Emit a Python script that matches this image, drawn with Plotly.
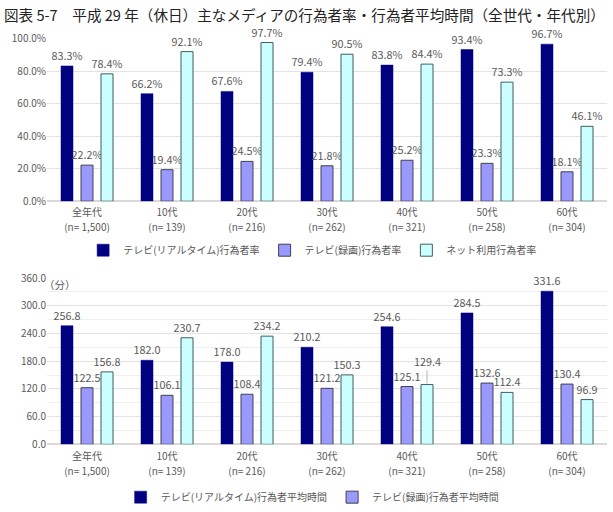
import plotly.graph_objects as go

cat_names = ["全年代", "10代", "20代", "30代", "40代", "50代", "60代"]
cat_n = ["(n= 1,500)", "(n= 139)", "(n= 216)", "(n= 262)", "(n= 321)", "(n= 258)", "(n= 304)"]

rate_real = [83.3, 66.2, 67.6, 79.4, 83.8, 93.4, 96.7]
rate_rec = [22.2, 19.4, 24.5, 21.8, 25.2, 23.3, 18.1]
rate_net = [78.4, 92.1, 97.7, 90.5, 84.4, 73.3, 46.1]

time_real = [256.8, 182.0, 178.0, 210.2, 254.6, 284.5, 331.6]
time_rec = [122.5, 106.1, 108.4, 121.2, 125.1, 132.6, 130.4]
time_net = [156.8, 230.7, 234.2, 150.3, 129.4, 112.4, 96.9]

names_top = ["テレビ(リアルタイム)行為者率", "テレビ(録画)行為者率", "ネット利用行為者率"]
names_bot = ["テレビ(リアルタイム)行為者平均時間", "テレビ(録画)行為者平均時間", "ネット利用行為者平均時間"]

# index of the label that is lifted with a leader line in the lower chart
LIFTED = 4

W, H = 613, 512
FONT = "Noto Sans CJK JP"
GREY = "#595959"
colors = ["#000080", "#9999FF", "#CCFFFF"]
lines = [dict(color="#000080", width=0.5), dict(color="#404050", width=1), dict(color="#3f5f5f", width=1)]
LABEL_SIZE = 10.8


def py(px):
    return 1 - px / H


fig = go.Figure()

for vals, name, c, ln in zip([rate_real, rate_rec, rate_net], names_top, colors, lines):
    fig.add_trace(go.Bar(
        x=cat_names, y=vals, name=name, marker=dict(color=c, line=ln),
        texttemplate="%{y:.1f}%", textposition="outside", cliponaxis=False,
        constraintext="none",
        textfont=dict(size=LABEL_SIZE, color=GREY, family=FONT),
        xaxis="x", yaxis="y", legend="legend"))

for i, (vals, name, c, ln) in enumerate(zip([time_real, time_rec, time_net], names_bot, colors, lines)):
    if i == 2:
        tt = ["" if k == LIFTED else "%{y:.1f}" for k in range(len(vals))]
    else:
        tt = "%{y:.1f}"
    fig.add_trace(go.Bar(
        x=cat_names, y=vals, name=name, marker=dict(color=c, line=ln),
        texttemplate=tt, textposition="outside", cliponaxis=False,
        constraintext="none",
        textfont=dict(size=LABEL_SIZE, color=GREY, family=FONT),
        xaxis="x2", yaxis="y2", legend="legend2", showlegend=(i < 2),
        offsetgroup=str(i)))

# empty helper traces so that the overlaid "(n= ...)" label axes are drawn
for xa, ya in (("x3", "y"), ("x4", "y2")):
    fig.add_trace(go.Scatter(x=cat_n, y=[None] * len(cat_n), mode="markers",
                             xaxis=xa, yaxis=ya, showlegend=False, hoverinfo="skip"))

xdom = [47 / W, 607 / W]
tf = dict(size=10, color=GREY, family=FONT)
axis_common = dict(showline=False, ticks="", tickfont=tf)
n_axis = dict(type="category", range=[-0.5, len(cat_n) - 0.5], showgrid=False,
              zeroline=False, showline=False, ticks="", tickfont=tf, ticklabelstandoff=19,
              domain=xdom)

fig.update_layout(
    width=W, height=H,
    margin=dict(l=0, r=0, t=0, b=0),
    paper_bgcolor="white", plot_bgcolor="white",
    font=dict(family=FONT, color=GREY),
    barmode="group", bargap=0.25, bargroupgap=0.4,
    showlegend=True,
    xaxis=dict(domain=xdom, anchor="y", ticklabelstandoff=4, **axis_common),
    yaxis=dict(domain=[py(200), py(31)], range=[0, 100], dtick=20, tickformat=".1f",
               ticksuffix="%", showgrid=True, gridcolor="#e3e3e3", gridwidth=1,
               zeroline=True, zerolinecolor="#d9d9d9", **axis_common),
    xaxis2=dict(domain=xdom, anchor="y2", ticklabelstandoff=5, **axis_common),
    yaxis2=dict(domain=[py(453), py(280)], range=[0, 360], dtick=60, tickformat=".1f",
                showgrid=True, gridcolor="#e3e3e3", gridwidth=1,
                minor=dict(dtick=30, showgrid=True, gridcolor="#efefef", gridwidth=1),
                zeroline=True, zerolinecolor="#d9d9d9", **axis_common),
    xaxis3={**n_axis, "overlaying": "x", "anchor": "y", "side": "bottom"},
    xaxis4={**n_axis, "overlaying": "x2", "anchor": "y2", "side": "bottom",
            "ticklabelstandoff": 20},
    legend=dict(orientation="h", x=0.51, xanchor="center", y=py(251), yanchor="middle",
                font=dict(size=10, color=GREY, family=FONT), itemwidth=30,
                bgcolor="rgba(0,0,0,0)"),
    legend2=dict(orientation="h", x=0.51, xanchor="center", y=py(508), yanchor="middle",
                 font=dict(size=10, color=GREY, family=FONT), itemwidth=30,
                 bgcolor="rgba(0,0,0,0)"),
    annotations=[
        dict(text="図表 5-7　平成 29 年（休日）主なメディアの行為者率・行為者平均時間（全世代・年代別）",
             xref="paper", yref="paper", x=2 / W, y=py(6), xanchor="left", yanchor="middle",
             showarrow=False, font=dict(size=14.6, color="#222222", family=FONT)),
        dict(text="（分）", xref="paper", yref="paper", x=42 / W, y=py(287), xanchor="left",
             yanchor="middle", showarrow=False, font=dict(size=10.5, color=GREY, family=FONT)),
    ],
)

# lifted label with leader line (anchored at the bar's own data position)
fig.add_annotation(
    x=cat_names[LIFTED], y=time_net[LIFTED], xref="x2", yref="y2",
    text=f"{time_net[LIFTED]:.1f}", showarrow=True, arrowhead=0, arrowwidth=0.8,
    arrowcolor="#a6a6a6", ax=0, ay=-24, standoff=1,
    xshift=20, font=dict(size=LABEL_SIZE, color=GREY, family=FONT))

fig.write_html("out.html")
